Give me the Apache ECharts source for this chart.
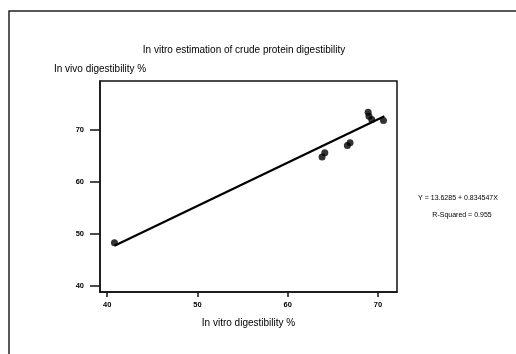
<!DOCTYPE html>
<html>
<head>
<meta charset="utf-8">
<script src="https://cdn.jsdelivr.net/npm/echarts@6/dist/echarts.min.js"></script>
<style>
html, body { margin: 0; padding: 0; background: #fff; }
#main { width: 516px; height: 354px; }
</style>
</head>
<body>
<div id="main"></div>
<script>
// observed points (in vitro %, in vivo %)
var points = [
	[40.8, 48.3],
	[63.8, 64.8],
	[64.1, 65.6],
	[66.6, 67.0],
	[66.9, 67.5],
	[68.9, 73.4],
	[69.0, 72.6],
	[69.3, 72.0],
	[70.6, 71.8]
];
// fitted line end points
var fitLine = [
	[40.8, 47.7],
	[70.7, 72.6]
];
var xTicks = [40, 50, 60, 70];
var yTicks = [40, 50, 60, 70];
var equationText = 'Y = 13.6285 + 0.834547X';
var rsqText = 'R-Squared = 0.955';

function initPage() {
	var myChart = echarts.init(document.getElementById('main'));
	var font = 'Liberation Sans, Arial, sans-serif';

	myChart.setOption({
		backgroundColor : '#fff',
		animation : false,
		title : {
			text : 'In vitro estimation of crude protein digestibility',
			left : 239,
			textAlign : 'center',
			top : 40,
			textStyle : {
				fontFamily : font,
				fontSize : 10,
				fontWeight : 'normal',
				color : '#000'
			}
		},
		grid : {
			left : 100,
			right : 119,
			top : 81,
			bottom : 62,
			show : true,
			borderColor : '#111',
			borderWidth : 1.5
		},
		xAxis : {
			type : 'value',
			min : 39.2,
			max : 72.1,
			name : 'In vitro digestibility %',
			nameLocation : 'middle',
			nameGap : 26,
			nameTextStyle : {
				fontFamily : font,
				fontSize : 10,
				color : '#000'
			},
			axisLine : {
				show : true,
				lineStyle : { color : '#111', width : 1.5 }
			},
			axisTick : {
				show : true,
				length : 5,
				customValues : xTicks,
				lineStyle : { color : '#111', width : 1.5 }
			},
			axisLabel : {
				customValues : xTicks,
				margin : 9,
				fontFamily : font,
				fontSize : 7.5,
				fontWeight : 'bold',
				color : '#000'
			},
			splitLine : { show : false }
		},
		yAxis : {
			type : 'value',
			min : 38.8,
			max : 79.4,
			axisLine : {
				show : true,
				lineStyle : { color : '#111', width : 1.5 }
			},
			axisTick : {
				show : true,
				length : 10,
				customValues : yTicks,
				lineStyle : { color : '#111', width : 1.5 }
			},
			axisLabel : {
				customValues : yTicks,
				margin : 16,
				fontFamily : font,
				fontSize : 7.5,
				fontWeight : 'bold',
				color : '#000'
			},
			splitLine : { show : false }
		},
		graphic : [ {
			type : 'polyline',
			shape : { points : [ [ 9, 354 ], [ 9, 11 ], [ 516, 11 ] ] },
			style : { stroke : '#222', lineWidth : 1.5, fill : null }
		}, {
			type : 'text',
			left : 54,
			top : 64,
			style : {
				text : 'In vivo digestibility %',
				font : '10px ' + font,
				fill : '#000'
			}
		}, {
			type : 'text',
			x : 458,
			y : 195,
			style : {
				text : equationText,
				font : '7px ' + font,
				fill : '#000',
				align : 'center'
			}
		}, {
			type : 'text',
			x : 462,
			y : 212,
			style : {
				text : rsqText,
				font : '7px ' + font,
				fill : '#000',
				align : 'center'
			}
		} ],
		series : [ {
			type : 'line',
			data : fitLine,
			showSymbol : false,
			lineStyle : { color : '#000', width : 2.2 },
			z : 2
		}, {
			type : 'scatter',
			data : points,
			symbolSize : 7,
			itemStyle : { color : '#000' },
			z : 3
		} ]
	});
}

initPage();
</script>
</body>
</html>
